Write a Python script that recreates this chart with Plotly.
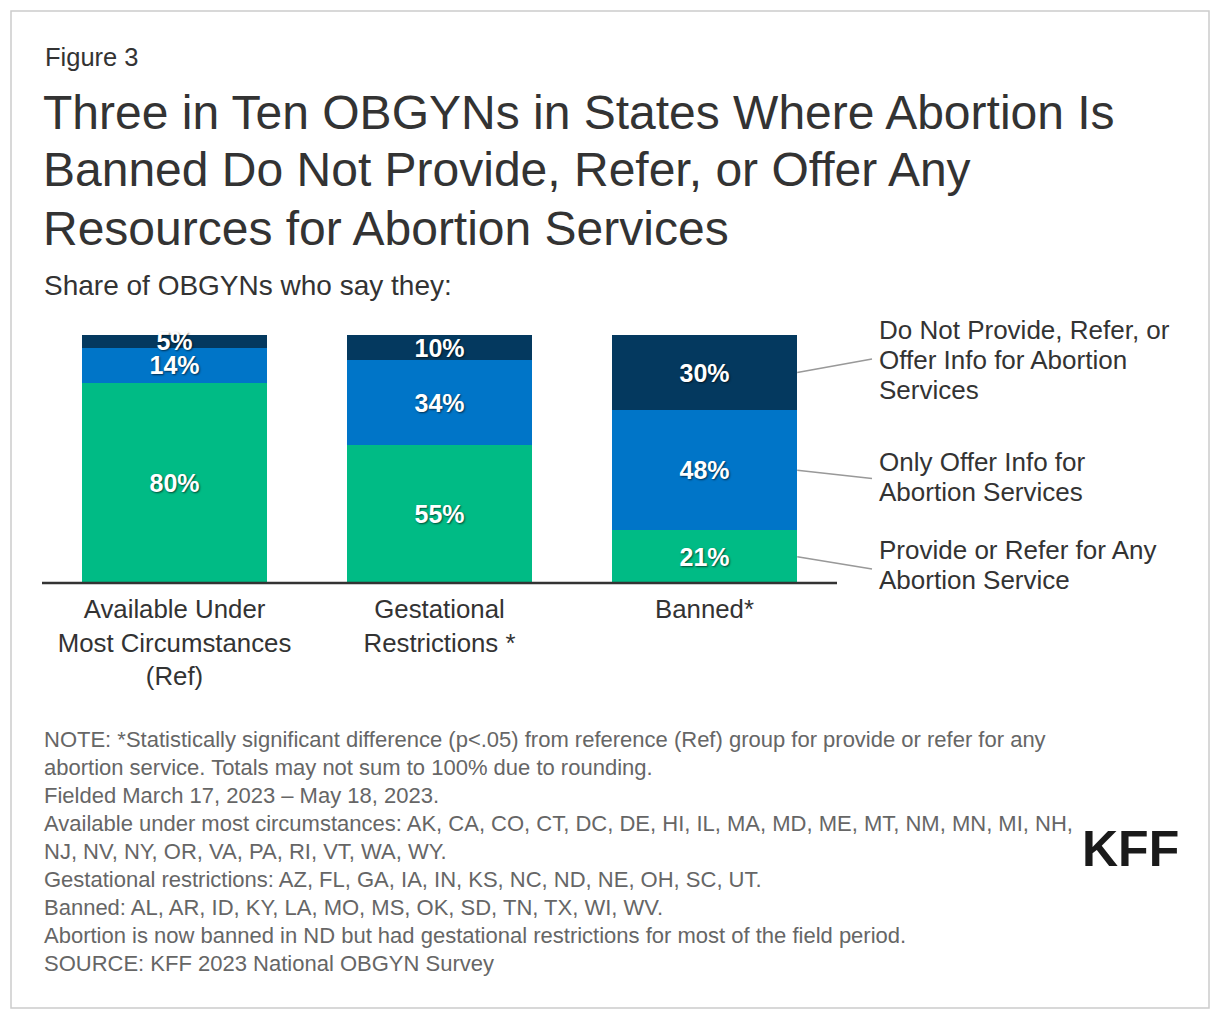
import plotly.graph_objects as go

# Page body has an 8px margin; figure sized to fit inside the window.
OFF = 8
W, H = 1204, 1004

categories = ["Available Under<br>Most Circumstances<br>(Ref)",
              "Gestational<br>Restrictions *",
              "Banned*"]
provide_refer = [80, 55, 21]
only_info = [14, 34, 48]
no_provide = [5, 10, 30]

series_names = ["Provide or Refer for Any Abortion Service",
                "Only Offer Info for Abortion Services",
                "Do Not Provide, Refer, or Offer Info for Abortion Services"]
series_colors = ["#00BB85", "#0075C8", "#04395F"]

legend_lines = [
    ["Provide or Refer for Any", "Abortion Service"],
    ["Only Offer Info for", "Abortion Services"],
    ["Do Not Provide, Refer, or", "Offer Info for Abortion", "Services"],
]

title_lines = ["Three in Ten OBGYNs in States Where Abortion Is",
               "Banned Do Not Provide, Refer, or Offer Any",
               "Resources for Abortion Services"]
subtitle = "Share of OBGYNs who say they:"
figure_label = "Figure 3"

note_lines = [
    "NOTE: *Statistically significant difference (p&lt;.05) from reference (Ref) group for provide or refer for any",
    "abortion service. Totals may not sum to 100% due to rounding.",
    "Fielded March 17, 2023 \u2013 May 18, 2023.",
    "Available under most circumstances: AK, CA, CO, CT, DC, DE, HI, IL, MA, MD, ME, MT, NM, MN, MI, NH,",
    "NJ, NV, NY, OR, VA, PA, RI, VT, WA, WY.",
    "Gestational restrictions: AZ, FL, GA, IA, IN, KS, NC, ND, NE, OH, SC, UT.",
    "Banned: AL, AR, ID, KY, LA, MO, MS, OK, SD, TN, TX, WI, WV.",
    "Abortion is now banned in ND but had gestational restrictions for most of the field period.",
    "SOURCE: KFF 2023 National OBGYN Survey",
]

FONT = "Liberation Sans, Arial, Helvetica, sans-serif"
DARK = "#333333"


def px(x):
    return (x - OFF) / W


def py(y):
    return 1 - (y - OFF) / H


BAR_W = 0.70
series = [provide_refer, only_info, no_provide]
PLOT_L, PLOT_R, PLOT_T, PLOT_B = 42, 837, 335, 583

fig = go.Figure()
for name, vals, col in zip(series_names, series, series_colors):
    fig.add_trace(go.Bar(
        x=categories, y=vals, name=name, marker=dict(color=col, line=dict(width=0)),
        width=BAR_W,
        text=[f"{v}%" for v in vals], textposition="inside",
        insidetextanchor="middle", textangle=0,
        textfont=dict(family=FONT, size=25, color="white", weight="bold",
                      shadow="1px 1px 2px rgba(0,0,0,0.6)"),
        hoverinfo="skip", showlegend=False, cliponaxis=False,
    ))

total = max(a + b + c for a, b, c in zip(*series))

annotations = []
annotations.append(dict(text=figure_label, x=px(43), y=py(57), xref="paper", yref="paper",
                        xanchor="left", yanchor="middle", showarrow=False,
                        font=dict(family=FONT, size=25.5, color=DARK)))
for i, line in enumerate(title_lines):
    annotations.append(dict(text=line, x=px(41), y=py(112 + 58 * i), xref="paper", yref="paper",
                            xanchor="left", yanchor="middle", showarrow=False,
                            font=dict(family=FONT, size=48, color=DARK)))
annotations.append(dict(text=subtitle, x=px(42), y=py(285), xref="paper", yref="paper",
                        xanchor="left", yanchor="middle", showarrow=False,
                        font=dict(family=FONT, size=28, color=DARK)))

label_tops = [550, 462, 330]
label_ends = [569, 478.5, 359]
shapes = []
last = len(categories) - 1
cat_px = (PLOT_R - PLOT_L) / len(categories)
unit_px = (PLOT_B - PLOT_T) / total
bar_right_px = PLOT_L + (last + 0.5 + BAR_W / 2) * cat_px
cum = 0
for k, vals in enumerate(series):
    mid = cum + vals[last] / 2
    cum += vals[last]
    shapes.append(dict(type="line", xref="paper", yref="paper",
                       x0=px(bar_right_px), y0=py(PLOT_B - mid * unit_px),
                       x1=px(872), y1=py(label_ends[k]),
                       line=dict(color="#999999", width=1.6)))
    for j, line in enumerate(legend_lines[k]):
        annotations.append(dict(text=line, x=px(877), y=py(label_tops[k] + 30 * j),
                                xref="paper", yref="paper", xanchor="left", yanchor="middle",
                                showarrow=False, font=dict(family=FONT, size=26, color=DARK)))

for i, line in enumerate(note_lines):
    annotations.append(dict(text=line, x=px(42), y=py(739 + 28.1 * i), xref="paper", yref="paper",
                            xanchor="left", yanchor="middle", showarrow=False,
                            font=dict(family=FONT, size=22, color="#666666")))

annotations.append(dict(text="<b>KFF</b>", x=px(1130), y=py(849), xref="paper", yref="paper",
                        xanchor="center", yanchor="middle", showarrow=False,
                        font=dict(family=FONT, size=50, color="#1a1a1a")))

shapes.append(dict(type="rect", xref="paper", yref="paper",
                   x0=px(11), x1=px(1209), y0=py(1008), y1=py(11),
                   line=dict(color="#CCCCCC", width=1.5), fillcolor="rgba(0,0,0,0)", layer="below"))
shapes.append(dict(type="line", xref="paper", yref="paper",
                   x0=px(PLOT_L), x1=px(PLOT_R), y0=py(PLOT_B), y1=py(PLOT_B),
                   line=dict(color="#333333", width=2.5)))

fig.update_layout(
    width=W, height=H, barmode="stack",
    margin=dict(l=0, r=0, t=0, b=0),
    paper_bgcolor="white", plot_bgcolor="white",
    uniformtext=dict(minsize=25, mode="show"),
    xaxis=dict(domain=[px(PLOT_L), px(PLOT_R)], range=[-0.5, 2.5], showgrid=False,
               zeroline=False, showline=False, ticks="outside", ticklen=3,
               tickcolor="rgba(0,0,0,0)",
               tickfont=dict(family=FONT, size=25.8, color=DARK), fixedrange=True),
    yaxis=dict(domain=[py(PLOT_B), py(PLOT_T)], range=[0, total], visible=False, fixedrange=True),
    annotations=annotations, shapes=shapes,
    font=dict(family=FONT, color=DARK),
)

fig.write_html("out.html", config={"displayModeBar": False})
